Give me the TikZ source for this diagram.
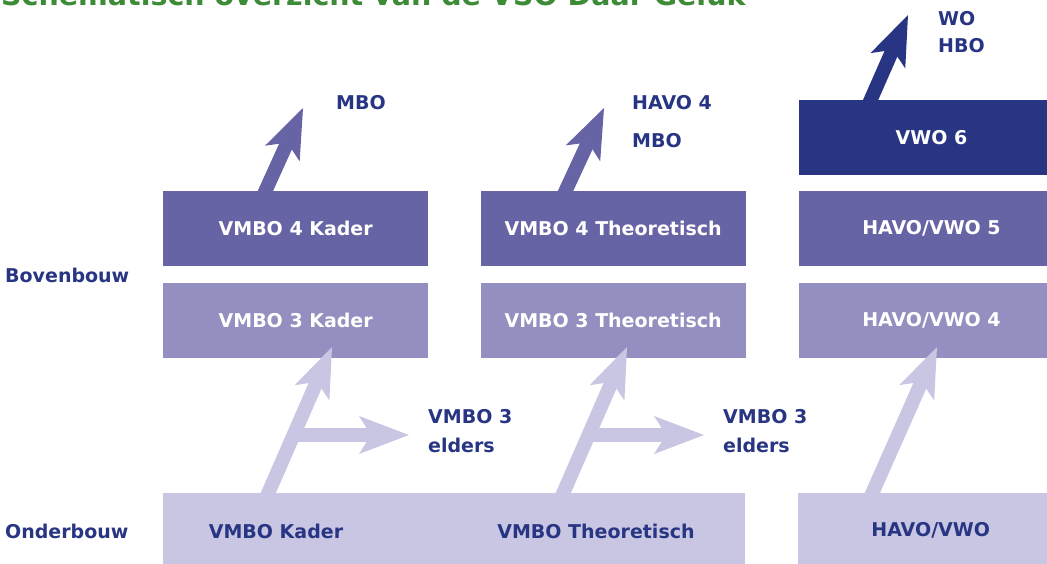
\documentclass[tikz,border=0pt]{standalone}
\usepackage{fontspec}
\setmainfont{DejaVu Sans}
\usetikzlibrary{arrows.meta, positioning}
\definecolor{navy}{RGB}{40,53,131}
\definecolor{paars}{RGB}{103,100,166}
\definecolor{lila}{RGB}{147,143,192}
\definecolor{licht}{RGB}{200,198,226}
\definecolor{titelgroen}{RGB}{61,139,55}
\tikzset{jaar/.style={rectangle, minimum width=265pt, minimum height=75pt, inner sep=0pt, text=white, font=\bfseries\fontsize{19}{22}\selectfont},
         label/.style={inner sep=0pt, text=navy, font=\bfseries\fontsize{19}{22}\selectfont, align=left},
         pijl/.style={line width=14pt, -{Stealth[length=50pt, width=38pt, inset=12pt, line width=0pt]}}}

\begin{document}
\begin{tikzpicture}[x=1pt, y=-1pt]
                \useasboundingbox (0,0) rectangle (1047,563);
                \clip (0,0) rectangle (1047,563);

                 \node[inner sep=0pt, anchor=base west, text=titelgroen, font=\bfseries\fontsize{28.5}{32}\selectfont] (titel) at (1,5) {Schematisch overzicht van de VSO Daar Geluk};

                 % doorstroom naar vervolgonderwijs
                 \coordinate (kvan) at (259,205);
                 \coordinate (kmbo) at (303,108);
                 \coordinate (tvan) at (559,205);
                 \coordinate (tmbo) at (604,108);
                 \coordinate (vvan) at (864,115);
                 \coordinate (vwo) at (908,15);
                 \draw[pijl, paars] (kvan) -- (kmbo);
                 \draw[pijl, paars] (tvan) -- (tmbo);
                 \draw[pijl, navy] (vvan) -- (vwo);

                 % bovenbouw
                 \node[jaar, fill=paars, anchor=north west] (k4) at (163,191) {VMBO 4 Kader};
                 \node[jaar, fill=lila, below=16pt of k4] (k3) {VMBO 3 Kader};
                 \node[jaar, fill=paars, right=52pt of k4] (t4) {VMBO 4 Theoretisch};
                 \node[jaar, fill=lila, below=16pt of t4] (t3) {VMBO 3 Theoretisch};
                 \node[jaar, fill=paars, right=53pt of t4] (v5) {HAVO/VWO 5};
                 \node[jaar, fill=lila, below=16pt of v5] (v4) {HAVO/VWO 4};
                 \node[jaar, fill=navy, above=16pt of v5] (v6) {VWO 6};

                 % overgang onderbouw - bovenbouw
                 \coordinate (kbasis) at (263,505);
                 \coordinate (ktop) at (332,347);
                 \coordinate (ktak) at (293,435);
                 \coordinate (kelders) at (409,435);
                 \coordinate (tbasis) at (558,505);
                 \coordinate (ttop) at (627,347);
                 \coordinate (ttak) at (588,435);
                 \coordinate (telders) at (704,435);
                 \coordinate (vbasis) at (867,505);
                 \coordinate (vtop) at (937,347);
                 \draw[pijl, licht] (kbasis) -- (ktop);
                 \draw[pijl, licht] (ktak) -- (kelders);
                 \draw[pijl, licht] (tbasis) -- (ttop);
                 \draw[pijl, licht] (ttak) -- (telders);
                 \draw[pijl, licht] (vbasis) -- (vtop);

                 % onderbouw
                 \node[rectangle, fill=licht, minimum width=582pt, minimum height=75pt, inner sep=0pt, anchor=north west] (onder) at (163,493) {};
                 \node[label] (kader) at (276,531) {VMBO Kader};
                 \node[label] (theo) at (596,531) {VMBO Theoretisch};
                 \node[jaar, fill=licht, text=navy, anchor=north west] (havo) at (798,493) {HAVO/VWO};

                 % teksten
                 \node[label, anchor=base west] (boven) at (5,282) {Bovenbouw};
                 \node[label, anchor=base west] (onderb) at (5,538) {Onderbouw};
                 \node[label, anchor=base west] (mbo1) at (336,109) {MBO};
                 \node[label, anchor=base west] (havo4) at (632,109) {HAVO 4};
                 \node[label, anchor=base west] (mbo2) at (632,147) {MBO};
                 \node[label, anchor=base west] (wo) at (938,25) {WO};
                 \node[label, anchor=base west] (hbo) at (938,52) {HBO};
                 \node[label, anchor=base west] (k3e) at (428,423) {VMBO 3};
                 \node[label, anchor=base west] (k3e2) at (428,452) {elders};
                 \node[label, anchor=base west] (t3e) at (723,423) {VMBO 3};
                 \node[label, anchor=base west] (t3e2) at (723,452) {elders};
\end{tikzpicture}
\end{document}
